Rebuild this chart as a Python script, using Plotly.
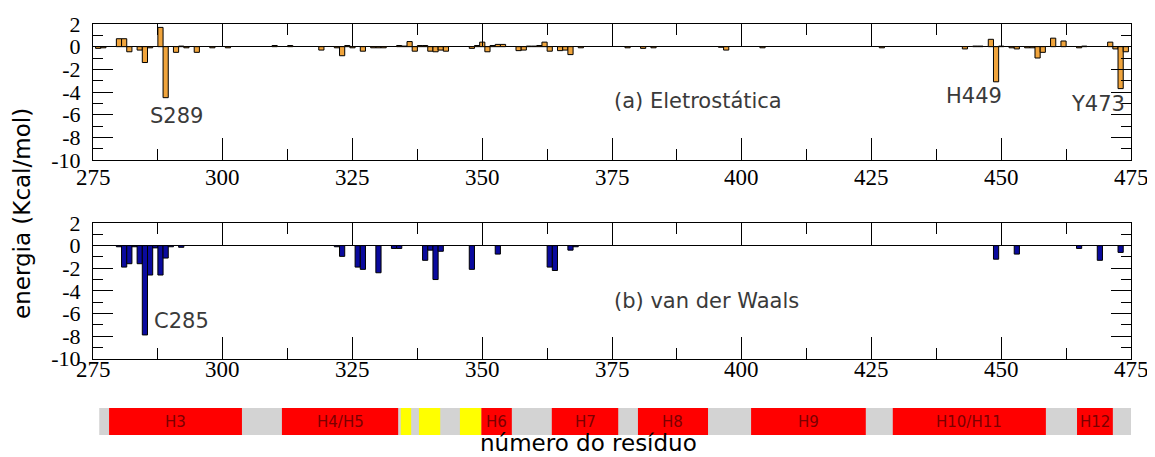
import plotly.graph_objects as go

# ---------------- data ----------------
elec_res = [276, 277, 280, 281, 282, 284, 285, 286, 288, 289, 291, 292, 293, 295, 298, 301,
            310, 313, 319, 322, 323, 324, 325, 327, 329, 330, 331, 334, 335, 336, 337, 338,
            339, 340, 341, 342, 343, 348, 349, 350, 351, 352, 353, 354, 357, 358, 359, 360,
            361, 362, 363, 365, 366, 367, 369, 378, 381, 383, 396, 397, 404, 427, 443, 445,
            446, 448, 449, 450, 452, 453, 455, 456, 457, 458, 460, 462, 465, 466, 471, 472,
            473, 474]
elec_val = [-0.15, -0.1, 0.7, 0.7, -0.45, -0.3, -1.4, -0.1, 1.7, -4.5, -0.5, 0.05, -0.1, -0.5, -0.1, -0.1,
            0.1, 0.1, -0.3, -0.1, -0.8, 0.1, -0.1, -0.4, -0.1, -0.1, -0.1, 0.1, 0.05, 0.45, -0.4, 0.1,
            0.1, -0.4, -0.45, -0.3, -0.4, -0.15, 0.1, 0.4, -0.45, 0.1, 0.2, 0.2, -0.35, -0.3, 0.05, 0.05,
            0.1, 0.4, -0.4, -0.35, -0.3, -0.7, -0.1, -0.1, -0.15, -0.1, -0.05, -0.3, -0.1, -0.1, -0.2, 0.05,
            0.05, 0.65, -3.1, 0.05, -0.1, -0.2, -0.1, -0.1, -1.0, -0.5, 0.75, 0.5, -0.1, 0.05, 0.4, -0.2,
            -3.7, -0.45]

vdw_res = [280, 281, 282, 283, 284, 285, 286, 287, 288, 289, 290, 292, 322, 323, 326, 327, 330,
           333, 334, 339, 340, 341, 342, 348, 353, 363, 364, 367, 368, 449, 453, 465, 469, 473]
vdw_val = [-0.1, -1.9, -1.6, -0.1, -1.6, -7.9, -2.6, -0.2, -2.6, -1.1, -0.1, -0.15, -0.1, -0.95, -1.9, -2.1, -2.4,
           -0.25, -0.25, -1.3, -0.4, -3.0, -0.5, -2.1, -0.75, -1.9, -2.2, -0.4, -0.1, -1.2, -0.75, -0.25, -1.3, -0.6]

x_ticks = [275, 300, 325, 350, 375, 400, 425, 450, 475]
x_tick_text = ["275", "300", "325", "350", "375", "400", "425", "450", "475"]
y_ticks = [2, 0, -2, -4, -6, -8, -10]
y_tick_text = ["2", "0", "-2", "-4", "-6", "-8", "-10"]

seq_start, seq_end = 276.2, 475.4
helix_names = ["H3", "H4/H5", "H6", "H7", "H8", "H9", "H10/H11", "H12"]
helix_start = [278.1, 311.4, 349.8, 363.4, 380.0, 401.8, 429.1, 464.6]
helix_end = [303.7, 333.8, 355.7, 376.2, 393.5, 423.9, 458.6, 471.5]
loop_start = [334.3, 337.8, 345.7]
loop_end = [336.3, 341.9, 349.8]

# ---------------- layout helpers ----------------
OFF = 8                      # page body margin of the html page
W, H = 1155 - OFF, 457 - OFF
PLOT_L, PLOT_R = 93, 1131    # page pixels of the plot area
L = PLOT_L - OFF
R = W - (PLOT_R - OFF)


def py(px):
    return 1 - (px - OFF) / H


def px_x(px):
    return (px - PLOT_L) / (PLOT_R - PLOT_L)


ytick_font = dict(family="Liberation Serif", size=22, color="black")
xtick_font = dict(family="Liberation Serif", size=23, color="black")
ann_font = dict(family="DejaVu Sans", size=21, color="#3a3a3a")

fig = go.Figure()
fig.add_trace(go.Bar(x=elec_res, y=elec_val, width=1, xaxis="x", yaxis="y",
                     marker=dict(color="#F0A43C", line=dict(color="black", width=1)),
                     showlegend=False))
fig.add_trace(go.Bar(x=vdw_res, y=vdw_val, width=1, xaxis="x2", yaxis="y2",
                     marker=dict(color="#0A0A9E", line=dict(color="black", width=1)),
                     showlegend=False))


def xax(anchor):
    return dict(domain=[0, 1], anchor=anchor, range=[275, 475], tickvals=x_ticks,
                ticks="inside", ticklen=22, tickwidth=1.2, tickcolor="black",
                minor=dict(ticks="inside", ticklen=11, tickwidth=1.2, dtick=12.5, tick0=275,
                           tickcolor="black"),
                showline=True, linecolor="black", linewidth=1.2, mirror="allticks",
                showgrid=False, zeroline=False, showticklabels=False, automargin=False)


def yax(anchor, dom):
    return dict(domain=dom, anchor=anchor, range=[-10, 2], tickvals=y_ticks, ticktext=y_tick_text,
                ticks="inside", ticklen=20, tickwidth=1.2, tickcolor="black",
                minor=dict(ticks="inside", ticklen=10, tickwidth=1.2, dtick=1, tick0=0,
                           tickcolor="black"),
                showline=True, linecolor="black", linewidth=1.2, mirror="allticks",
                showgrid=False, zeroline=True, zerolinecolor="black", zerolinewidth=1.2,
                tickfont=ytick_font, automargin=False, ticklabelstandoff=7)


shapes = [dict(type="rect", xref="x", yref="paper", x0=seq_start, x1=seq_end,
               y0=py(435), y1=py(408), fillcolor="#D3D3D3", line=dict(width=0), layer="below")]
for s, e in zip(helix_start, helix_end):
    shapes.append(dict(type="rect", xref="x", yref="paper", x0=s, x1=e, y0=py(435), y1=py(408),
                       fillcolor="#FF0000", line=dict(width=0)))
for s, e in zip(loop_start, loop_end):
    shapes.append(dict(type="rect", xref="x", yref="paper", x0=s, x1=e, y0=py(435), y1=py(408),
                       fillcolor="#FFFF00", line=dict(width=0)))

annotations = []
# x tick labels (placed through the x data axes)
for xr, ypx in (("x", 177), ("x2", 369)):
    for v, t in zip(x_ticks, x_tick_text):
        annotations.append(dict(text=t, x=v, y=py(ypx), xref=xr, yref="paper",
                                xanchor="center", yanchor="middle", showarrow=False,
                                font=xtick_font))

for n, s, e in zip(helix_names, helix_start, helix_end):
    annotations.append(dict(text=n, x=(s + e) / 2, y=py(422), xref="x", yref="paper",
                            xanchor="center", yanchor="middle",
                            showarrow=False, font=dict(family="DejaVu Sans", size=15, color="#7a0000")))

annotations += [
    dict(text="S289", x=291.0, y=-6.1, xref="x", yref="y", xanchor="center", yanchor="middle",
         showarrow=False, font=ann_font),
    dict(text="(a) Eletrostática", x=px_x(612), y=-4.8, xref="paper", yref="y", xanchor="left",
         yanchor="middle", showarrow=False, font=ann_font),
    dict(text="H449", x=444.8, y=-4.35, xref="x", yref="y", xanchor="center", yanchor="middle",
         showarrow=False, font=ann_font),
    dict(text="Y473", x=468.6, y=-5.05, xref="x", yref="y", xanchor="center", yanchor="middle",
         showarrow=False, font=ann_font),
    dict(text="C285", x=286.3, y=-6.7, xref="x2", yref="y2", xanchor="left", yanchor="middle",
         showarrow=False, font=ann_font),
    dict(text="(b) van der Waals", x=px_x(612), y=-4.9, xref="paper", yref="y2", xanchor="left",
         yanchor="middle", showarrow=False, font=ann_font),
    dict(text="energia (Kcal/mol)", x=px_x(22), y=py(214), xref="paper", yref="paper", textangle=-90,
         xanchor="center", yanchor="middle",
         showarrow=False, font=dict(family="DejaVu Sans", size=23, color="black")),
    dict(text="número do resíduo", x=px_x(588), y=py(443), xref="paper", yref="paper",
         xanchor="center", yanchor="middle",
         showarrow=False, font=dict(family="DejaVu Sans", size=23, color="black")),
]

fig.update_layout(
    width=W, height=H,
    margin=dict(l=L, r=R, t=0, b=0),
    paper_bgcolor="white", plot_bgcolor="white",
    xaxis=xax("y"),
    yaxis=yax("x", [py(160), py(24)]),
    xaxis2=xax("y2"),
    yaxis2=yax("x2", [py(358.7), py(223)]),
    shapes=shapes,
    annotations=annotations,
    barmode="overlay",
    showlegend=False,
)

fig.write_html("out.html")
